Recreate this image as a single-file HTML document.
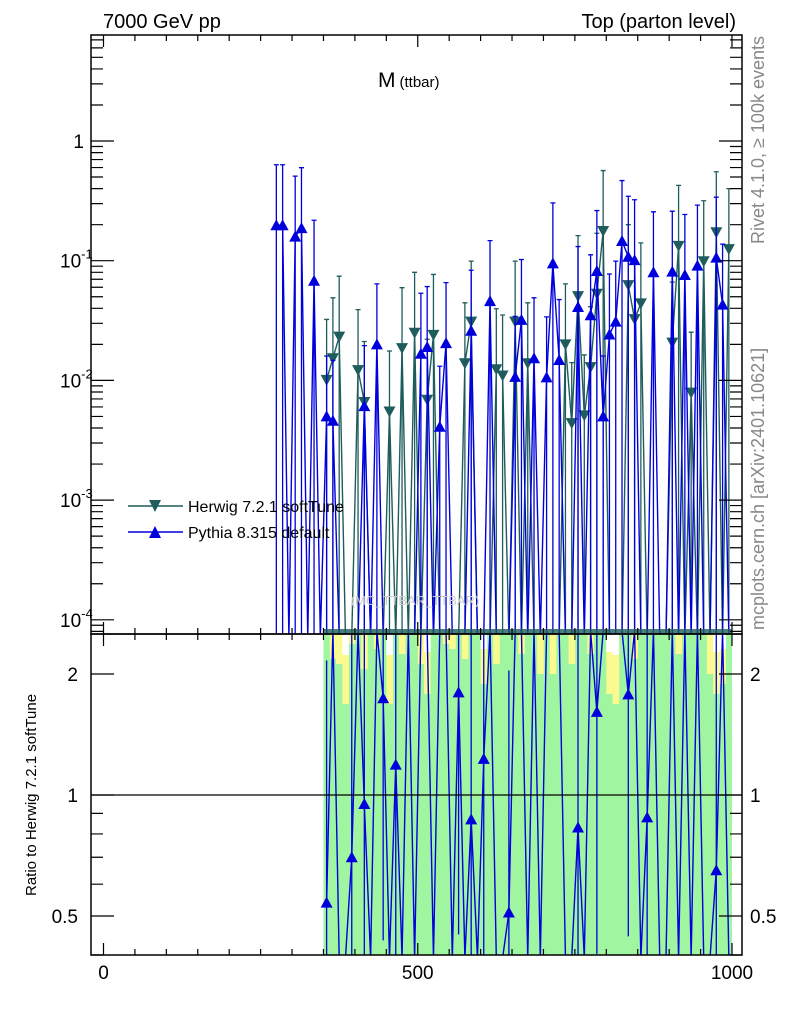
<!DOCTYPE html>
<html><head><meta charset="utf-8"><style>
html,body{margin:0;padding:0;background:#fff;overflow:hidden;width:786px;height:1024px}
svg{display:block;font-family:"Liberation Sans",sans-serif}
</style></head><body>
<svg id="c" width="786" height="1024" viewBox="0 0 786 1024" xmlns="http://www.w3.org/2000/svg">
<defs>
<clipPath id="cm"><rect x="91" y="35" width="651" height="599"/></clipPath>
<clipPath id="cr"><rect x="91" y="634" width="651" height="321"/></clipPath>
</defs>
<rect x="0" y="0" width="786" height="1024" fill="#fff"/>
<g id="ratioBands" clip-path="url(#cr)"></g>
<g id="mainMarks" clip-path="url(#cm)"></g>
<g id="ratioMarks" clip-path="url(#cr)"></g>
<g id="axes"></g>
<text x="103" y="28" font-size="20">7000 GeV pp</text>
<text x="736" y="28" font-size="20" text-anchor="end">Top (parton level)</text>
<text x="378" y="87" font-size="21">M<tspan font-size="15" dx="4">(ttbar)</tspan></text>
<text x="415" y="605" font-size="13" fill="#ccc" text-anchor="middle">(MC_TTBAR_TTBAR)</text>
<text transform="translate(764,36) rotate(-90)" font-size="18" fill="#888" text-anchor="end">Rivet 4.1.0, ≥ 100k events</text>
<text transform="translate(764,630) rotate(-90)" font-size="18" fill="#888">mcplots.cern.ch [arXiv:2401.10621]</text>
<text transform="translate(36,795) rotate(-90)" font-size="15" text-anchor="middle">Ratio to Herwig 7.2.1 softTune</text>
<g>
<g>
<line x1="128" y1="506" x2="183" y2="506" stroke="#1f5c5c" stroke-width="1.5"/>
<polygon points="149,500 161,500 155,512" fill="#1f5c5c"/>
<text x="188" y="512" font-size="16">Herwig 7.2.1 softTune</text></g>
<g>
<line x1="128" y1="532" x2="183" y2="532" stroke="#0000dd" stroke-width="1.5"/>
<polygon points="149,538 161,538 155,526" fill="#0000dd"/>
<text x="188" y="538" font-size="16">Pythia 8.315 default</text></g>
</g>
</svg>
<script>
const pythiaBins = [275,285,295,305,315,325,335,345,355,365,375,385,395,405,415,425,435,445,455,465,475,485,495,505,515,525,535,545,555,565,575,585,595,605,615,625,635,645,655,665,675,685,695,705,715,725,735,745,755,765,775,785,795,805,815,825,835,845,855,865,875,885,895,905,915,925,935,945,955,965,975,985,995];
const pythiaValues = [0.198,0.198,0,0.159,0.187,0,0.068,0,0.005,0.0046,
 0,0,0,0,0.0061,0,0.02,0,0,0,
 0,0,0,0.0167,0.019,0,0.0041,0.0205,0,0,
 0,0.026,0,0,0.046,0,0,0,0.0107,0.032,
 0,0.0153,0,0.0106,0.095,0.0148,0,0,0.041,0,
 0.035,0.082,0.005,0.0242,0.031,0.146,0.108,0.101,0,0,
 0.08,0,0,0.081,0,0.076,0,0.091,0,0,
 0.106,0.043,0];
const herwigBins = [355,365,375,385,395,405,415,425,435,445,455,465,475,485,495,505,515,525,535,545,555,565,575,585,595,605,615,625,635,645,655,665,675,685,695,705,715,725,735,745,755,765,775,785,795,805,815,825,835,845,855,865,875,885,895,905,915,925,935,945,955,965,975,985,995];
const herwigValues = [0.0101,0.0153,0.0232,0,0,0.0122,0.0066,0,0,0,
 0.0055,0,0.0186,0,0.025,0,0.0069,0.024,0,0,
 0,0,0.0139,0.031,0,0,0,0.0124,0.011,0,
 0.031,0,0.0139,0,0,0,0,0,0.02,0.0044,
 0.0506,0.0051,0.0129,0.053,0.177,0,0,0,0.0625,0.0325,
 0.044,0,0,0,0,0.0207,0.133,0,0.0079,0,
 0.099,0,0.173,0,0.125];
const ratioValues = [0.54,99,0,0,0.70,99,0.95,0,99,1.74,
 0,1.19,0,99,0,99,99,0,99,99,
 0,1.80,0,0.87,0,1.23,99,0,0,0.51,
 99,99,0,99,0,99,99,99,0,0,
 0.83,0,99,1.61,99,99,99,99,1.78,99,
 0,0.88,99,0,0,99,0,99,0,99,
 0,0,0.65,99,0];
const yellowDepth = [0,25,30,70,10,0,35,0,15,0,
 70,0,20,0,0,30,60,0,0,10,
 15,0,25,0,0,50,0,30,0,0,
 0,20,0,0,40,0,40,0,0,30,
 0,0,20,0,0,60,70,0,0,25,
 0,0,0,0,0,0,20,0,0,0,
 0,40,60,50,0];
const mainTickLabels = ["1","10","10","10","10"];
const mainTickExps = ["","-1","-2","-3","-4"];
const xTickLabels = ["0","500","1000"];
const ratioTickLabels = ["2","1","0.5"];

const NS="http://www.w3.org/2000/svg";
const X0=103.5, XS=0.6285;
function xs(g){return X0+XS*g;}
function ym(v){return v>0?Math.max(30,141-119.7*Math.log10(v)):637;}
function yr(r){if(r<=0)return 958; const y=795-402*Math.log10(r); return Math.min(958,Math.max(631,y));}
function mk(tag,attrs,parent){const e=document.createElementNS(NS,tag);for(const k in attrs)e.setAttribute(k,attrs[k]);parent.appendChild(e);return e;}
const mainG=document.getElementById('mainMarks');
const ratioG=document.getElementById('ratioMarks');
const bandG=document.getElementById('ratioBands');
const axG=document.getElementById('axes');
const HC="#1f5c5c", PC="#0000dd";

const bx0=xs(herwigBins[0]-5), bx1=xs(herwigBins[herwigBins.length-1]+5);
let band=mk('rect',{x:bx0,y:634,width:bx1-bx0,height:321,fill:'#a0f5a0'},bandG);


herwigBins.forEach((b,i)=>{
  const h=yellowDepth[i];
  if(h>0){
    let yb=mk('rect',{x:xs(b-5),y:634,width:XS*10+0.3,height:h,fill:'#fafa90'},bandG);
    
    
    if(h>40){
      let wb=mk('rect',{x:xs(b-5),y:634,width:XS*10+0.3,height:h*0.3,fill:'#ffffff'},bandG);
      
      
    }
  }
});

function series(bins,vals,color,up,g,name){
  let pts=bins.map((b,i)=>xs(b)+','+ym(vals[i])).join(' ');
  let pl=mk('polyline',{points:pts,fill:'none',stroke:color,'stroke-width':1.4},g);
  
  
  bins.forEach((b,i)=>{
    const v=vals[i]; const x=xs(b);
    if(v>0){
      const yt=ym(v*3.2);
      let eb=mk('path',{d:`M${x},${yt}V634M${x-2.5},${yt}H${x+2.5}`,stroke:color,'stroke-width':1.3},g);
      
      
      const y=ym(v);
      const p= up? `${x-6},${y+5} ${x+6},${y+5} ${x},${y-6}` : `${x-6},${y-5} ${x+6},${y-5} ${x},${y+6}`;
      let m=mk('polygon',{points:p,fill:color},g);
      
      
    }
  });
}
series(herwigBins,herwigValues,HC,false,mainG,'herwig');
series(pythiaBins,pythiaValues,PC,true,mainG,'pythia');
let zb=mk('rect',{x:bx0,y:629,width:bx1-bx0,height:5,fill:HC,opacity:0.8},mainG);



let rpts=herwigBins.map((b,i)=>xs(b)+','+yr(ratioValues[i])).join(' ');
let rl=mk('polyline',{points:rpts,fill:'none',stroke:PC,'stroke-width':1.4},ratioG);


herwigBins.forEach((b,i)=>{
  const r=ratioValues[i], x=xs(b);
  if(r>0 && r<50){
    const y=yr(r);
    let eb=mk('path',{d:`M${x},${yr(r*4)}V${yr(r/4)}`,stroke:PC,'stroke-width':1.3},ratioG);
    
    
    let m=mk('polygon',{points:`${x-6},${y+5} ${x+6},${y+5} ${x},${y-6}`,fill:PC},ratioG);
    
    
  }
});
let one=mk('line',{x1:91,x2:742,y1:yr(1),y2:yr(1),stroke:'#000','stroke-width':1.2},ratioG);



let f1=mk('rect',{x:91,y:35,width:651,height:599,fill:'none',stroke:'#000','stroke-width':1.5},axG);


let f2=mk('rect',{x:91,y:634,width:651,height:321,fill:'none',stroke:'#000','stroke-width':1.5},axG);



let d='';
for(let e=-5;e<=1;e++){
  for(let m=1;m<10;m++){
    const y=141-119.7*Math.log10(m*Math.pow(10,e));
    if(y<35||y>634)continue;
    const L=m===1?23:12;
    d+=`M91,${y}h${L}M742,${y}h${-L}`;
  }
}
for(let g=0;g<=1000;g+=50){
  const x=xs(g); const L=g%500===0?12:6;
  d+=`M${x},955v${-L}M${x},634v${L}M${x},634v${-L}M${x},35v${L}`;
}
[0.4,0.5,0.6,0.7,0.8,0.9,1,2].forEach(r=>{
  const y=yr(r); const L=(r===1||r===2||r===0.5)?23:12;
  d+=`M91,${y}h${L}M742,${y}h${-L}`;
});
let tk=mk('path',{d:d,stroke:'#000','stroke-width':1.2,fill:'none'},axG);



mainTickLabels.forEach((t,i)=>{
  const y=141-119.7*(-i);
  let tx=mk('text',{x:i===0?84:60,y:141+119.7*i+7,'font-size':19,'text-anchor':i===0?'end':'start'},axG);
  
  
  tx.textContent=t;
  if(mainTickExps[i]){
    let ts=document.createElementNS(NS,'tspan');
    ts.setAttribute('font-size','13');ts.setAttribute('dy','-9');
    ts.textContent=mainTickExps[i];tx.appendChild(ts);
  }
});
[0,500,1000].forEach((g,i)=>{
  let tx=mk('text',{x:xs(g),y:979,'font-size':19,'text-anchor':'middle'},axG);
  
  
  tx.textContent=xTickLabels[i];
});
[2,1,0.5].forEach((r,i)=>{
  const y=yr(r)+7;
  let a=mk('text',{x:78,y:y,'font-size':19,'text-anchor':'end'},axG);
  
  
  a.textContent=ratioTickLabels[i];
  let b=mk('text',{x:750,y:y,'font-size':19},axG);
  
  
  b.textContent=ratioTickLabels[i];
});
</script>
</body></html>
